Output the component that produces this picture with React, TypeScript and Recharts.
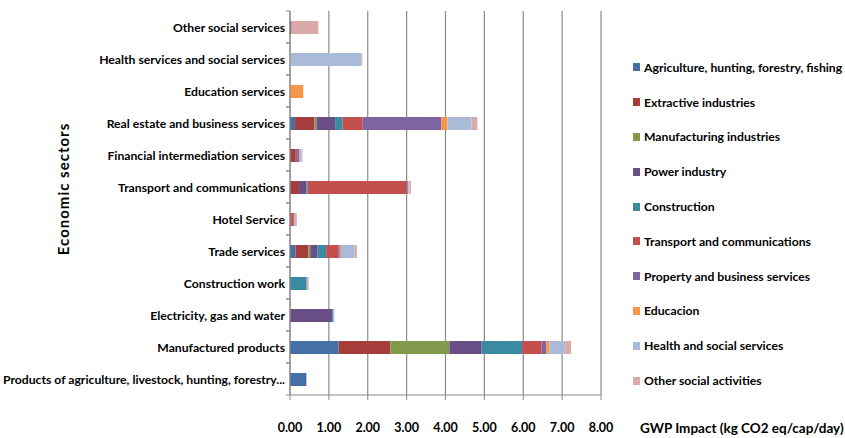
import React from 'react';
import { BarChart, Bar, XAxis, YAxis, CartesianGrid } from 'recharts';

const categories = [
  'Other social services',
  'Health services and social services',
  'Education services',
  'Real estate and business services',
  'Financial intermediation services',
  'Transport and communications',
  'Hotel Service',
  'Trade services',
  'Construction work',
  'Electricity, gas and water',
  'Manufactured products',
  'Products of agriculture, livestock, hunting, forestry...',
];

const agriculture = [0, 0, 0, 0.13, 0.01, 0.01, 0.01, 0.14, 0, 0, 1.25, 0.42];
const extractive = [0, 0, 0, 0.5, 0.12, 0.22, 0.02, 0.33, 0, 0.01, 1.33, 0];
const manufacturing = [0, 0, 0, 0.05, 0, 0, 0, 0.05, 0, 0, 1.52, 0];
const power = [0.04, 0, 0, 0.48, 0.02, 0.19, 0, 0.18, 0, 1.08, 0.83, 0];
const construction = [0, 0, 0, 0.19, 0, 0.03, 0, 0.23, 0.43, 0.03, 1.04, 0];
const transport = [0, 0, 0, 0.52, 0.05, 2.54, 0.07, 0.31, 0, 0, 0.5, 0];
const property = [0, 0, 0, 2.02, 0.04, 0.04, 0, 0.04, 0, 0, 0.12, 0];
const education = [0, 0, 0.34, 0.16, 0, 0.02, 0.02, 0.03, 0, 0, 0.08, 0];
const health = [0, 1.84, 0, 0.62, 0.05, 0.03, 0.05, 0.35, 0.01, 0.02, 0.41, 0];
const otherSocial = [0.69, 0.02, 0, 0.15, 0.03, 0.03, 0.01, 0.06, 0.04, 0, 0.15, 0.01];

const seriesNames = [
  'Agriculture, hunting, forestry, fishing',
  'Extractive industries',
  'Manufacturing industries',
  'Power industry',
  'Construction',
  'Transport and communications',
  'Property and business services',
  'Educacion',
  'Health and social services',
  'Other social activities',
];
const seriesValues = [
  agriculture, extractive, manufacturing, power, construction,
  transport, property, education, health, otherSocial,
];
const seriesColors = [
  '#4470A6', '#A53E3B', '#81994A', '#6A4F87', '#3A8BA2',
  '#C3504D', '#8064A2', '#F79646', '#A9BBD9', '#DCA9AA',
];
const xTicks = [0, 1, 2, 3, 4, 5, 6, 7, 8];

const xAxisTitle = 'GWP Impact  (kg CO2 eq/cap/day)';
const yAxisTitle = 'Economic sectors';

const data = categories.map((name, i) => {
  const row: Record<string, any> = { name };
  seriesValues.forEach((vals, s) => {
    row['s' + s] = vals[i];
  });
  return row;
});

const FONT = "Lato, 'DejaVu Sans', sans-serif";
const GRID = '#8a8a8a';

const YTick = (props: any) => {
  const { x, y, payload } = props;
  return (
    <g>
      <text x={x} y={y} dy={4.5} textAnchor="end" fontFamily={FONT} fontWeight="bold" fontSize={12.2} fill="#000">
        {payload.value}
      </text>
      <line x1={x + 1} x2={x + 5} y1={y - 16} y2={y - 16} stroke={GRID} />
      <line x1={x + 1} x2={x + 5} y1={y + 16} y2={y + 16} stroke={GRID} />
    </g>
  );
};

const XLabel = (props: any) => {
  const vb = props.viewBox || {};
  return (
    <text x={vb.x + vb.width + 39} y={vb.y + 38} fontFamily={FONT} fontWeight="bold" fontSize={13.5} fill="#000">
      {xAxisTitle}
    </text>
  );
};

const YLabel = (props: any) => {
  const vb = props.viewBox || {};
  const cx = vb.x + 63;
  const cy = vb.y + vb.height / 2 - 14;
  return (
    <text x={cx} y={cy} transform={`rotate(-90 ${cx} ${cy})`} textAnchor="middle" dominantBaseline="central"
      fontFamily={FONT} fontWeight="bold" fontSize={15} letterSpacing={1} fill="#000">
      {yAxisTitle}
    </text>
  );
};

const LegendBox = () => (
  <div style={{ position: 'absolute', left: 633, top: 50, width: 212, fontFamily: FONT, fontWeight: 'bold', fontSize: 12.2, color: '#000' }}>
    {seriesNames.map((n, i) => (
      <div key={n} style={{ height: 34.8, display: 'flex', alignItems: 'center', whiteSpace: 'nowrap' }}>
        <span style={{ display: 'inline-block', flex: '0 0 7px', width: 7, height: 8, background: seriesColors[i], marginRight: 4 }} />
        <span>{n}</span>
      </div>
    ))}
  </div>
);

export default function App() {
  return (
    <div style={{ position: 'absolute', left: 0, top: 0, width: 845, height: 438, background: '#fff' }}>
      <BarChart
        width={845}
        height={438}
        data={data}
        layout="vertical"
        margin={{ top: 11, right: 244, bottom: 0, left: 0 }}
        barSize={13}
      >
        <CartesianGrid horizontal={false} vertical={true} stroke={GRID} strokeWidth={1.2} />
        <XAxis
          type="number"
          domain={[0, 8]}
          ticks={xTicks}
          interval={0}
          tickFormatter={(v: number) => v.toFixed(2)}
          axisLine={{ stroke: GRID }}
          tickLine={{ stroke: GRID }}
          tickSize={5}
          tickMargin={23}
          height={43}
          tick={{ fontFamily: FONT, fontWeight: 'bold', fontSize: 12.5, fill: '#000' }}
          label={<XLabel />}
        />
        <YAxis
          type="category"
          dataKey="name"
          width={290}
          axisLine={{ stroke: GRID }}
          tickLine={false}
          tickSize={0}
          tickMargin={5}
          interval={0}
          tick={<YTick />}
          label={<YLabel />}
        />
        {seriesNames.map((n, i) => (
          <Bar key={n} dataKey={'s' + i} name={n} stackId="a" fill={seriesColors[i]} isAnimationActive={false} />
        ))}
      </BarChart>
      <LegendBox />
    </div>
  );
}
